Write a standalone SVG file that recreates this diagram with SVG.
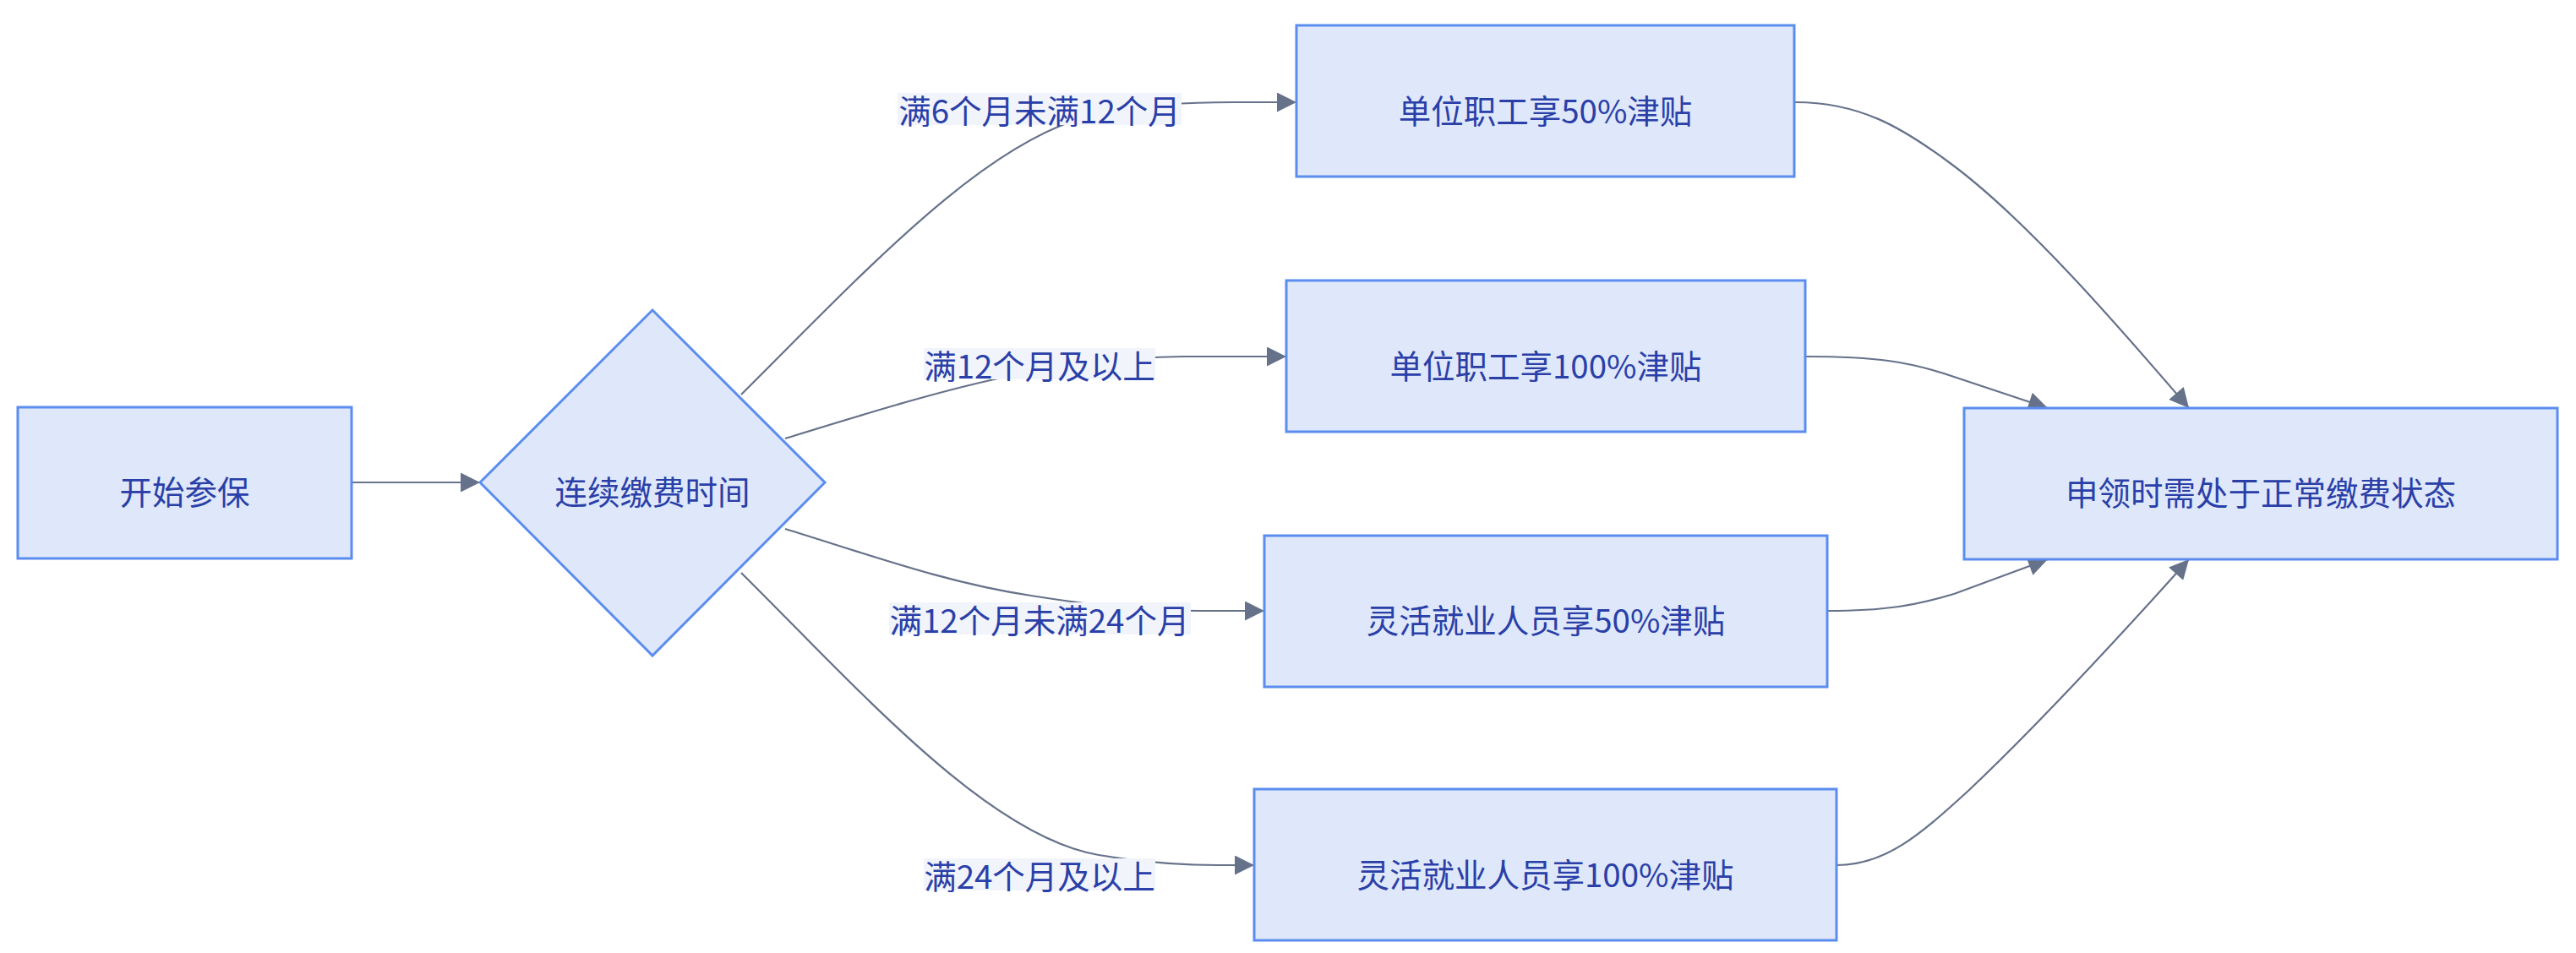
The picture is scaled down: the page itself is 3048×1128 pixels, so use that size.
<svg xmlns="http://www.w3.org/2000/svg" width="3048" height="1128" viewBox="0 0 3048 1128">
<defs>
<marker id="arr" viewBox="0 0 10 10" refX="10" refY="5" markerUnits="userSpaceOnUse" markerWidth="24" markerHeight="23" orient="auto">
<path d="M0,0 L10,5 L0,10 z" fill="#66718a"/>
</marker>
<style>
.node{fill:#dfe8fa;stroke:#5b8def;stroke-width:3}
.txt{font-family:"Noto Sans CJK SC","Noto Sans",sans-serif;font-size:38.5px;fill:#2a3fa8;text-anchor:middle;dominant-baseline:central}
.edge{fill:none;stroke:#66718a;stroke-width:2.2;marker-end:url(#arr)}
.lbg{fill:#f1f4fb}
</style>
</defs>
<rect width="3048" height="1128" fill="#ffffff"/>
<g id="connectors">
<path class="edge" d="M416,571 L568,571"/>
<path class="edge" d="M877,467 C1020,325 1170,160 1300,135 C1360,124 1400,121 1460,121 L1534,121"/>
<path class="edge" d="M929,519 C1030,488 1120,460 1200,444 C1270,430 1320,423 1400,422 L1522,422"/>
<path class="edge" d="M929,626 C1030,657 1120,690 1220,705 C1290,716 1340,723 1420,723 L1496,723"/>
<path class="edge" d="M877,678 C1020,820 1170,990 1300,1012 C1360,1022 1400,1024 1440,1024 L1484,1024"/>
<path class="edge" d="M2124,121 C2200,121 2250,150 2310,195 C2400,262 2510,390 2590,483"/>
<path class="edge" d="M2136,422 C2220,422 2260,428 2312,446 L2423,483"/>
<path class="edge" d="M2162,723 C2230,723 2265,717 2312,703 L2423,662"/>
<path class="edge" d="M2173,1024 C2230,1024 2270,990 2330,935 C2420,850 2520,740 2590,662"/>
<g id="edge-labels">
<rect class="lbg" x="1062" y="110" width="336" height="38"/>
<text class="txt" x="1230" y="129">满6个月未满12个月</text>
<rect class="lbg" x="1093" y="412" width="274" height="37"/>
<text class="txt" x="1230" y="431">满12个月及以上</text>
<rect class="lbg" x="1052" y="713" width="357" height="38"/>
<text class="txt" x="1230" y="732">满12个月未满24个月</text>
<rect class="lbg" x="1093" y="1016" width="274" height="38"/>
<text class="txt" x="1230" y="1035">满24个月及以上</text>
</g>
</g>
<g id="start">
<rect class="node" x="21" y="482" width="395" height="179"/>
<text class="txt" x="218.5" y="580">开始参保</text>
</g>
<g id="decision">
<polygon class="node" points="568,571 772,367 976,571 772,776"/>
<text class="txt" x="772" y="580">连续缴费时间</text>
</g>
<g id="box1">
<rect class="node" x="1534" y="30" width="589" height="179"/>
<text class="txt" x="1828.5" y="129">单位职工享50%津贴</text>
</g>
<g id="box2">
<rect class="node" x="1522" y="332" width="614" height="179"/>
<text class="txt" x="1829" y="431">单位职工享100%津贴</text>
</g>
<g id="box3">
<rect class="node" x="1496" y="634" width="666" height="179"/>
<text class="txt" x="1829" y="732">灵活就业人员享50%津贴</text>
</g>
<g id="box4">
<rect class="node" x="1484" y="934" width="689" height="179"/>
<text class="txt" x="1828.5" y="1033">灵活就业人员享100%津贴</text>
</g>
<g id="final">
<rect class="node" x="2324" y="483" width="702" height="179"/>
<text class="txt" x="2675" y="581">申领时需处于正常缴费状态</text>
</g>
</svg>
